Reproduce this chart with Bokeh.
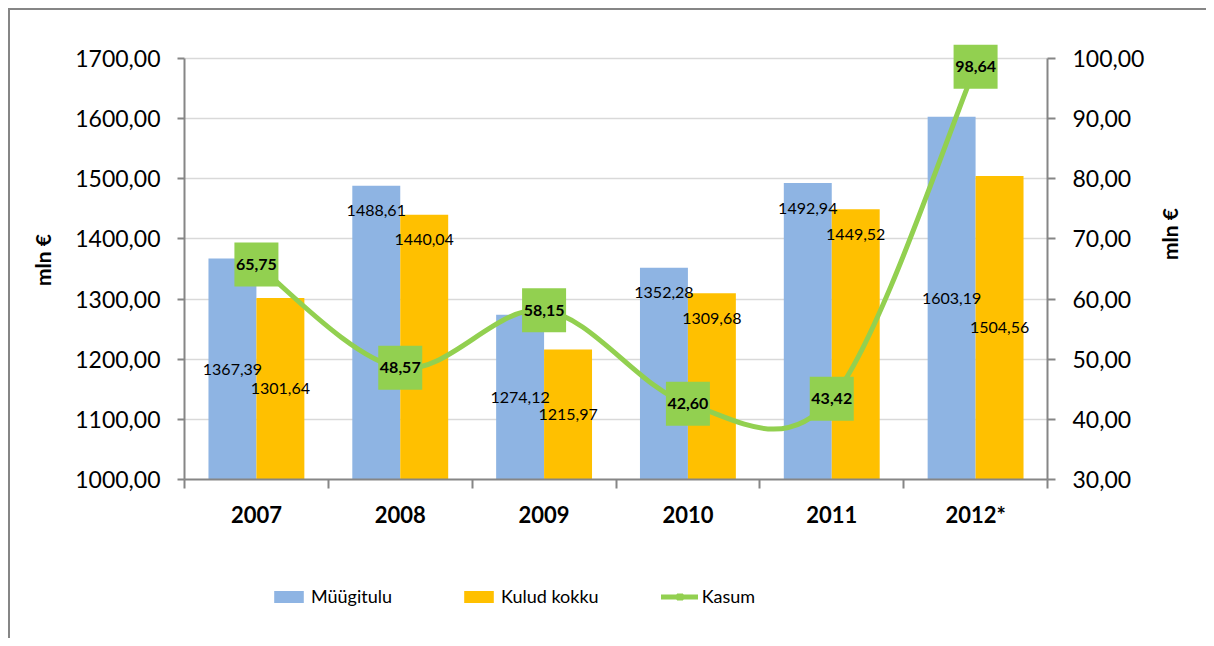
import math
from bokeh.plotting import figure
from bokeh.layouts import column
from bokeh.models import (Range1d, LinearAxis, FixedTicker, ColumnDataSource,
                          Legend, LegendItem)
from bokeh.core.properties import value
from bokeh.embed import file_html
from bokeh.resources import INLINE

# ---------------- data ----------------
years = ["2007", "2008", "2009", "2010", "2011", "2012*"]
muugitulu = [1367.39, 1488.61, 1274.12, 1352.28, 1492.94, 1603.19]
kulud_kokku = [1301.64, 1440.04, 1215.97, 1309.68, 1449.52, 1504.56]
kasum = [65.75, 48.57, 58.15, 42.60, 43.42, 98.64]

left_ticks = [1000, 1100, 1200, 1300, 1400, 1500, 1600, 1700]
left_tick_labels = ["1000,00", "1100,00", "1200,00", "1300,00",
                    "1400,00", "1500,00", "1600,00", "1700,00"]
right_ticks = [30, 40, 50, 60, 70, 80, 90, 100]
right_tick_labels = ["30,00", "40,00", "50,00", "60,00",
                     "70,00", "80,00", "90,00", "100,00"]

# data-label placement: "c" = middle of bar, "e" = just inside bar end
muugitulu_label_mode = ["c", "e", "c", "e", "e", "c"]
kulud_label_mode = ["c", "e", "c", "e", "e", "c"]

# ---------------- style ----------------
FONT = "Lato"
BLUE = "#8EB4E3"
ORANGE = "#FFC000"
GREEN = "#92D050"
AXIS = "#868686"
GRID = "#D9D9D9"
FRAME_LINE = "linear-gradient(#868686,#868686)"

def fmt(v):
    return f"{v:.2f}".replace(".", ",")

n = len(years)
xc = [i + 0.5 for i in range(n)]
x_blue = [i + 1 / 3 for i in range(n)]
x_orange = [i + 2 / 3 for i in range(n)]
BASE = left_ticks[0]

def bezier_source(ys):
    def tangent(i):
        a = max(i - 1, 0)
        b = min(i + 1, n - 1)
        return ((xc[b] - xc[a]) / 6, (ys[b] - ys[a]) / 6)
    bz = dict(x0=[], y0=[], x1=[], y1=[], cx0=[], cy0=[], cx1=[], cy1=[])
    for i in range(n - 1):
        t0 = tangent(i)
        t1 = tangent(i + 1)
        bz["x0"].append(xc[i]); bz["y0"].append(ys[i])
        bz["x1"].append(xc[i + 1]); bz["y1"].append(ys[i + 1])
        bz["cx0"].append(xc[i] + t0[0]); bz["cy0"].append(ys[i] + t0[1])
        bz["cx1"].append(xc[i + 1] - t1[0]); bz["cy1"].append(ys[i + 1] - t1[1])
    return ColumnDataSource(bz)

# ================= main chart =================
p = figure(width=1206, height=530,
           x_range=Range1d(0, n), y_range=Range1d(1000, 1730),
           output_backend="svg", toolbar_location=None,
           min_border_left=184, min_border_right=159,
           min_border_top=40, min_border_bottom=48)
p.extra_y_ranges = {"r": Range1d(30, 103)}
p.outline_line_color = None
p.background_fill_color = "white"
p.border_fill_alpha = 0
p.styles = {"background": (f"{FRAME_LINE} 8px 8px / 2px 100% no-repeat, "
                           f"{FRAME_LINE} 8px 8px / 100% 2px no-repeat, white")}

# x axis
xa = p.xaxis[0]
xa.ticker = FixedTicker(ticks=xc, minor_ticks=list(range(n + 1)))
xa.major_label_overrides = {xc[i]: years[i] for i in range(n)}
xa.major_tick_out = 0
xa.major_tick_in = 0
xa.minor_tick_out = 9
xa.minor_tick_in = 0
xa.minor_tick_line_color = AXIS
xa.minor_tick_line_width = 2
xa.axis_line_color = AXIS
xa.axis_line_width = 2
xa.major_label_standoff = 12
xa.major_label_text_font = FONT
xa.major_label_text_font_style = "bold"
xa.major_label_text_font_size = "22px"
xa.major_label_text_color = "black"

# left axis
ya = p.yaxis[0]
ya.ticker = FixedTicker(ticks=left_ticks, minor_ticks=[])
ya.major_label_overrides = {left_ticks[i]: left_tick_labels[i] for i in range(len(left_ticks))}
ya.bounds = (left_ticks[0], left_ticks[-1])
ya.major_tick_out = 7
ya.major_tick_in = 0
ya.major_tick_line_color = AXIS
ya.major_tick_line_width = 2
ya.minor_tick_out = 0
ya.minor_tick_in = 0
ya.axis_line_color = AXIS
ya.axis_line_width = 2
ya.major_label_standoff = 17
ya.major_label_text_font = FONT
ya.major_label_text_font_size = "23px"
ya.major_label_text_color = "black"
ya.axis_label = "mln €"
ya.axis_label_text_font = FONT
ya.axis_label_text_font_style = "bold"
ya.axis_label_text_font_size = "21px"
ya.axis_label_text_color = "black"
ya.axis_label_standoff = 17

# right axis
ra = LinearAxis(y_range_name="r",
                ticker=FixedTicker(ticks=right_ticks, minor_ticks=[]),
                major_label_overrides={right_ticks[i]: right_tick_labels[i]
                                       for i in range(len(right_ticks))},
                bounds=(right_ticks[0], right_ticks[-1]),
                major_tick_out=8, major_tick_in=0,
                major_tick_line_color=AXIS, major_tick_line_width=2,
                minor_tick_out=0, minor_tick_in=0,
                axis_line_color=AXIS, axis_line_width=2,
                major_label_standoff=17,
                major_label_text_font=FONT, major_label_text_font_size="23px",
                major_label_text_color="black",
                axis_label="mln €", axis_label_text_font=FONT,
                axis_label_text_font_style="bold",
                axis_label_text_font_size="21px",
                axis_label_text_color="black",
                axis_label_standoff=22)
if "axis_label_orientation" in ra.properties():
    ra.axis_label_orientation = math.pi / 2
p.add_layout(ra, "right")

# grid
p.xgrid.visible = False
p.ygrid[0].ticker = FixedTicker(ticks=left_ticks, minor_ticks=[])
p.ygrid[0].grid_line_color = GRID
p.ygrid[0].grid_line_width = 1.5

# bars
p.vbar(x=x_blue, top=muugitulu, bottom=BASE, width=1 / 3,
       fill_color=BLUE, line_color=None)
p.vbar(x=x_orange, top=kulud_kokku, bottom=BASE, width=1 / 3,
       fill_color=ORANGE, line_color=None)

# bar labels
def bar_label_source(xs, vals, modes):
    ys, offs, txt = [], [], []
    for v, m in zip(vals, modes):
        if m == "c":
            ys.append((BASE + v) / 2)
            offs.append(0)
        else:
            ys.append(v)
            offs.append(25)
        txt.append(fmt(v))
    return ColumnDataSource(dict(x=xs, y=ys, off=offs, t=txt))

for src in (bar_label_source(x_blue, muugitulu, muugitulu_label_mode),
            bar_label_source(x_orange, kulud_kokku, kulud_label_mode)):
    p.text(x="x", y="y", text="t", y_offset="off", source=src,
           text_font=value(FONT), text_font_size="16px", text_color="black",
           text_align="center", text_baseline="middle")

# smoothed profit line
p.bezier(x0="x0", y0="y0", x1="x1", y1="y1", cx0="cx0", cy0="cy0",
         cx1="cx1", cy1="cy1", source=bezier_source(kasum),
         y_range_name="r", line_color=GREEN, line_width=5, line_cap="round")
# label boxes
p.scatter(x=xc, y=kasum, marker="square", size=44, fill_color=GREEN,
          line_color=None, y_range_name="r")
p.text(x=xc, y=kasum, text=[fmt(v) for v in kasum], y_range_name="r",
       text_font=value(FONT), text_font_style="bold", text_font_size="16px",
       text_color="black", text_align="center", text_baseline="middle")

# ================= legend strip =================
# the same series are drawn below this strip's visible range; only the legend shows
q = figure(width=1206, height=108, x_range=Range1d(0, n),
           y_range=Range1d(1700, 3400),
           output_backend="svg", toolbar_location=None,
           x_axis_location=None, y_axis_location=None,
           min_border_left=0, min_border_right=0,
           min_border_top=0, min_border_bottom=0)
q.xgrid.visible = False
q.ygrid.visible = False
q.outline_line_color = None
q.background_fill_alpha = 0
q.border_fill_alpha = 0
q.styles = {"background": f"{FRAME_LINE} 8px 0 / 2px 100% no-repeat, white"}

l_blue = q.vbar(x=x_blue, top=muugitulu, bottom=BASE, width=1 / 3,
                fill_color=BLUE, line_color=None)
l_orange = q.vbar(x=x_orange, top=kulud_kokku, bottom=BASE, width=1 / 3,
                  fill_color=ORANGE, line_color=None)
l_line = q.bezier(x0="x0", y0="y0", x1="x1", y1="y1", cx0="cx0", cy0="cy0",
                  cx1="cx1", cy1="cy1", source=bezier_source(kasum),
                  line_color=GREEN, line_width=5, line_cap="round")
l_mark = q.scatter(x=xc, y=kasum, marker="square", size=12, fill_color=GREEN,
                   line_color=GREEN)

# the strip's frame is aligned with the chart frame (left edge at 184 px)
legend = Legend(items=[LegendItem(label="Müügitulu", renderers=[l_blue]),
                       LegendItem(label="Kulud kokku", renderers=[l_orange]),
                       LegendItem(label="Kasum", renderers=[l_line, l_mark])],
                location=(86, 31), orientation="horizontal",
                glyph_width=37, glyph_height=15, label_width=87,
                label_standoff=4, spacing=62, padding=0, margin=0,
                border_line_color=None, background_fill_alpha=0,
                label_text_font=FONT, label_text_font_size="18px",
                label_text_color="black")
q.add_layout(legend)

layout = column(p, q, spacing=0)
open("out.html", "w").write(file_html(layout, INLINE))
